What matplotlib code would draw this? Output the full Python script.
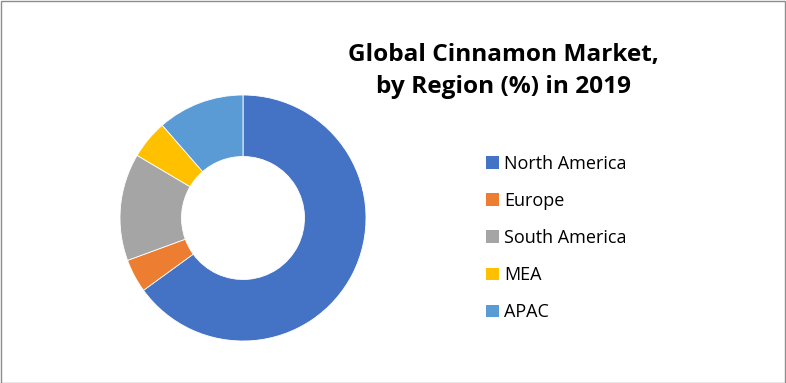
import matplotlib
matplotlib.use("Agg")
import matplotlib.pyplot as plt
from matplotlib.patches import Rectangle

regions = ["North America", "Europe", "South America", "MEA", "APAC"]
shares = [65.0, 4.4, 14.1, 5.1, 11.4]
colors = ["#4472C4", "#ED7D31", "#A5A5A5", "#FFC000", "#5B9BD5"]
title = "Global Cinnamon Market,\nby Region (%) in 2019"

W, H = 786, 383
fig = plt.figure(figsize=(W / 100, H / 100), dpi=100)
fig.patch.set_facecolor("white")

# border
fig.add_artist(Rectangle((0.5 / W, 0.5 / H), 1 - 1.5 / W, 1 - 1.5 / H,
                         transform=fig.transFigure, fill=False,
                         edgecolor="#8c8c8c", linewidth=1))

cx, cy, r = 243, 218, 123
ax = fig.add_axes([(cx - r) / W, (H - cy - r) / H, 2 * r / W, 2 * r / H])
wedges, _ = ax.pie(shares, colors=colors, startangle=90, counterclock=False,
                   radius=1, wedgeprops=dict(width=0.5, edgecolor="white", linewidth=0.6))
ax.set_xlim(-1, 1)
ax.set_ylim(-1, 1)
ax.set_aspect("equal")
ax.axis("off")

fig.text(503 / W, 1 - 71 / H, title, ha="center", va="center",
         fontsize=17.6, fontweight="bold", family=["Open Sans", "DejaVu Sans"],
         linespacing=1.42)

leg = fig.legend(wedges, regions, loc="upper left",
                 bbox_to_anchor=(470 / W, 1 - 138.5 / H), frameon=False,
                 prop=dict(family=["Open Sans", "DejaVu Sans"], size=13),
                 handlelength=0.7, handleheight=0.7, handletextpad=0.3,
                 labelspacing=1.06)
for h in leg.legend_handles:
    h.set_edgecolor("none")

fig.savefig("out.png", dpi=100, facecolor="white")
